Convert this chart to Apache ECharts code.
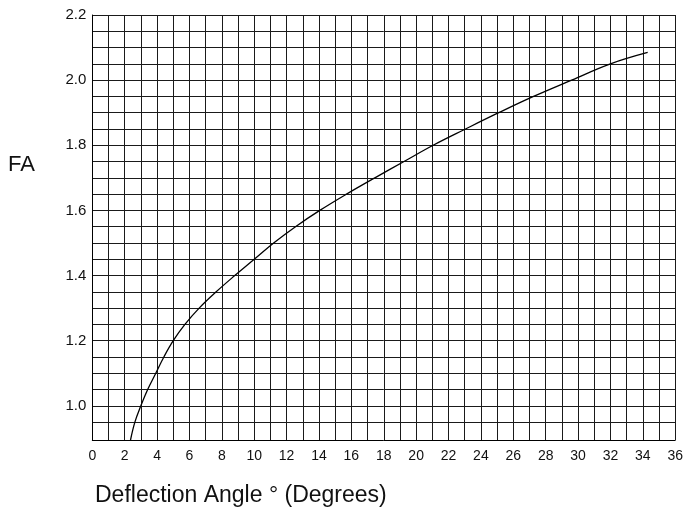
<!DOCTYPE html>
<html>
<head>
<meta charset="utf-8">
<style>
  html, body { margin: 0; padding: 0; background: #fff; }
  #chart { width: 686px; height: 513px; }
</style>
<script src="https://cdn.jsdelivr.net/npm/echarts@6/dist/echarts.min.js"></script>
</head>
<body>
<div id="chart"></div>
<script>
// deflection angle (degrees)
const angles = [2.36, 2.63, 3.0, 3.42, 3.92, 4.42, 5.0, 5.72, 6.6, 7.65, 8.8, 10.0, 11.2,
                12.55, 14.05, 15.7, 17.45, 19.25, 21.05, 23.05, 25.1, 27.25, 29.6, 32.0, 34.3];
// FA factor at those angles
const faValues = [0.895, 0.95, 1.0, 1.05, 1.1, 1.15, 1.2, 1.25, 1.3, 1.35, 1.4, 1.45, 1.5,
                  1.55, 1.6, 1.65, 1.7, 1.75, 1.8, 1.85, 1.9, 1.95, 2.0, 2.05, 2.085];

// tick labels
const yLabels = [1.0, 1.2, 1.4, 1.6, 1.8, 2.0, 2.2];
const yGridLines = [0.95, 1.0, 1.05, 1.1, 1.15, 1.2, 1.25, 1.3, 1.35, 1.4, 1.45, 1.5, 1.55,
                    1.6, 1.65, 1.7, 1.75, 1.8, 1.85, 1.9, 1.95, 2.0, 2.05, 2.1, 2.15, 2.2];

const FONT = '"Liberation Sans", Arial, Helvetica, sans-serif';
const gridColor = '#1a1a1a';

const chart = echarts.init(document.getElementById('chart'));

const option = {
    animation: false,
    backgroundColor: '#fff',
    grid: { left: 92.3, right: 8.3, top: 15, bottom: 73, containLabel: false },
    xAxis: {
        type: 'value',
        min: 0,
        max: 36,
        interval: 1,
        axisLine: { show: true, lineStyle: { color: '#000', width: 1 } },
        axisTick: { show: false },
        axisLabel: {
            margin: 9,
            color: '#111',
            fontFamily: FONT,
            fontSize: 14,
            formatter: v => (v % 2 === 0 ? String(v) : '')
        },
        splitLine: { show: true, lineStyle: { color: gridColor, width: 1 } }
    },
    yAxis: {
        type: 'value',
        min: 0.895,
        max: 2.2,
        axisLine: { show: true, lineStyle: { color: '#000', width: 1 } },
        axisTick: { show: false, customValues: yGridLines },
        axisLabel: {
            margin: 6,
            color: '#111',
            fontFamily: FONT,
            fontSize: 15,
            customValues: yLabels,
            formatter: v => v.toFixed(1)
        },
        splitLine: { show: true, lineStyle: { color: gridColor, width: 1 } }
    },
    graphic: [
        {
            type: 'text', left: 8, top: 154,
            style: { text: 'FA', font: '22px ' + FONT, fill: '#111' }
        },
        {
            type: 'text', left: 95, top: 484,
            style: { text: 'Deflection Angle ° (Degrees)', font: '23px ' + FONT, fill: '#111' }
        }
    ],
    series: [{
        type: 'line',
        data: angles.map((a, i) => [a, faValues[i]]),
        showSymbol: false,
        smooth: 0.4,
        clip: true,
        lineStyle: { color: '#000', width: 1.3 }
    }]
};

chart.setOption(option);
</script>
</body>
</html>
